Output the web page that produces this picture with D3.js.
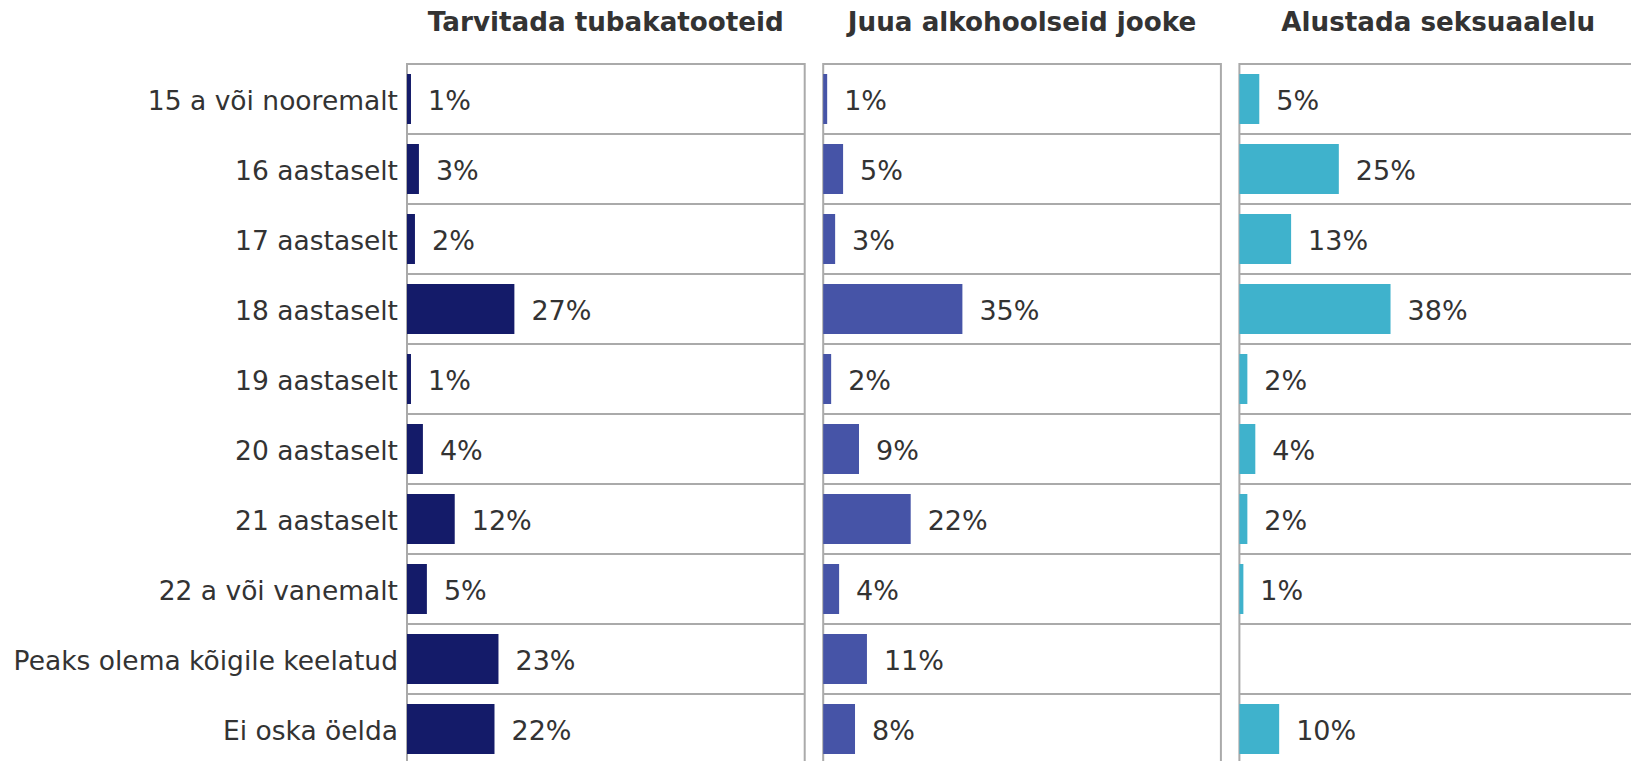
<!DOCTYPE html>
<html>
<head>
<meta charset="utf-8">
<script src="https://cdn.jsdelivr.net/npm/d3@7"></script>
<style>
  body { margin: 0; background: #fff; }
  svg { display: block; font-family: "DejaVu Sans", Verdana, sans-serif; }
</style>
</head>
<body>
<div id="chart"></div>
<script>
var categories = ['15 a või nooremalt', '16 aastaselt', '17 aastaselt', '18 aastaselt',
                  '19 aastaselt', '20 aastaselt', '21 aastaselt', '22 a või vanemalt',
                  'Peaks olema kõigile keelatud', 'Ei oska öelda']

var titles = ['Tarvitada tubakatooteid', 'Juua alkohoolseid jooke', 'Alustada seksuaalelu']

var tobacco = [1, 3, 2, 27, 1, 4, 12, 5, 23, 22]
var alcohol = [1, 5, 3, 35, 2, 9, 22, 4, 11, 8]
var sex     = [5, 25, 13, 38, 2, 4, 2, 1, null, 10]

var series = [tobacco, alcohol, sex]
var colors = ['#141b69', '#4654a7', '#3fb2cc']

var width = 1631, height = 761
var margin = { top: 64, left: 407 }
var panelW = 397.7, panelGap = 18.5
var plotH = 700

var svg = d3.select('#chart').append('svg')
  .attr('width', width)
  .attr('height', height)

var px = d3.scaleBand()
  .domain(titles)
  .range([margin.left, margin.left + 3 * panelW + 2 * panelGap])
  .paddingInner(panelGap / (panelW + panelGap))

var y = d3.scaleBand()
  .domain(categories)
  .range([0, plotH])
  .paddingInner(2 / 7)
  .paddingOuter(1 / 7)

var x = d3.scaleLinear()
  .domain([0, 100])
  .range([0, panelW])

// category labels
svg.append('g')
  .attr('transform', 'translate(' + (margin.left - 9) + ',' + margin.top + ')')
  .selectAll('text')
  .data(categories)
  .enter().append('text')
  .attr('y', function (d) { return y(d) + y.bandwidth() / 2 })
  .attr('dy', '0.42em')
  .attr('text-anchor', 'end')
  .attr('font-size', 26.5)
  .attr('fill', '#333')
  .text(function (d) { return d })

titles.forEach(function (t, i) {
  var g = svg.append('g')
    .attr('transform', 'translate(' + px(t) + ',' + margin.top + ')')

  g.append('text')
    .attr('x', panelW / 2)
    .attr('y', -33)
    .attr('text-anchor', 'middle')
    .attr('font-size', 26.2)
    .attr('font-weight', 'bold')
    .attr('fill', '#333')
    .text(t)

  // row separators
  g.selectAll('line.sep')
    .data(categories.slice(1))
    .enter().append('line')
    .attr('class', 'sep')
    .attr('x1', 0).attr('x2', panelW)
    .attr('y1', function (d) { return y(d) - y.step() * y.paddingInner() / 2 })
    .attr('y2', function (d) { return y(d) - y.step() * y.paddingInner() / 2 })
    .attr('stroke', '#aaa')
    .attr('stroke-width', 2)

  g.append('rect')
    .attr('width', panelW)
    .attr('height', plotH)
    .attr('fill', 'none')
    .attr('stroke', '#aaa')
    .attr('stroke-width', 2)

  var rows = categories.map(function (c, k) { return { cat: c, v: series[i][k] } })
    .filter(function (d) { return d.v != null })

  g.selectAll('rect.bar')
    .data(rows)
    .enter().append('rect')
    .attr('class', 'bar')
    .attr('x', x(0))
    .attr('y', function (d) { return y(d.cat) })
    .attr('width', function (d) { return x(d.v) - x(0) })
    .attr('height', y.bandwidth())
    .attr('fill', colors[i])

  g.selectAll('text.val')
    .data(rows)
    .enter().append('text')
    .attr('class', 'val')
    .attr('x', function (d) { return x(d.v) + 17 })
    .attr('y', function (d) { return y(d.cat) + y.bandwidth() / 2 })
    .attr('dy', '0.42em')
    .attr('font-size', 27)
    .attr('fill', '#333')
    .text(function (d) { return d.v + '%' })
})
</script>
</body>
</html>
